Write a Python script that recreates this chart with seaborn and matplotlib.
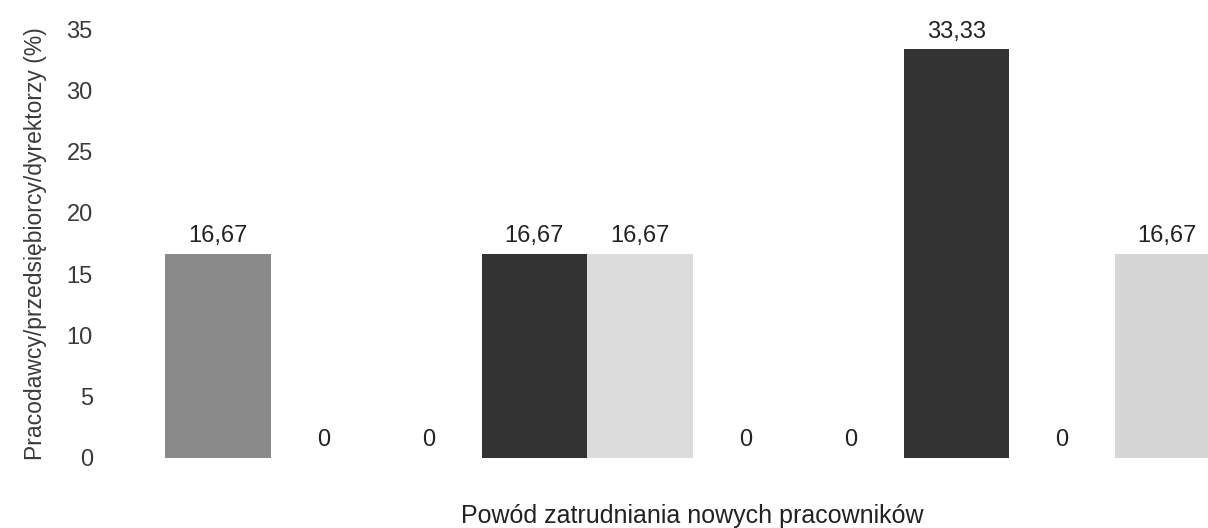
import matplotlib
matplotlib.use("Agg")
import matplotlib.pyplot as plt
import seaborn as sns
import pandas as pd

# reasons for hiring (tick labels are not shown in the original)
categories = ["Powód 1", "Powód 2", "Powód 3", "Powód 4", "Powód 5",
              "Powód 6", "Powód 7", "Powód 8", "Powód 9", "Powód 10"]
values = [16.67, 0, 0, 16.67, 16.67, 0, 0, 33.33, 0, 16.67]
colors = ["#8a8a8a", "#b0b0b0", "#b0b0b0", "#333333", "#dcdcdc",
          "#b0b0b0", "#b0b0b0", "#333333", "#b0b0b0", "#d6d6d6"]
yticks = [0, 5, 10, 15, 20, 25, 30, 35]

sns.set_theme(style="white")
plt.rcParams["font.family"] = ["Liberation Sans", "DejaVu Sans"]

df = pd.DataFrame({"powod": categories, "wartosc": values})

fig = plt.figure(figsize=(12.08, 5.28), dpi=100)
ax = fig.add_axes([165 / 1208, 70 / 528, 1055 / 1208, 429 / 528])

sns.barplot(data=df, x="powod", y="wartosc", hue="powod", palette=colors,
            width=1.0, legend=False, ax=ax, saturation=1, linewidth=0)

labels = [f"{v:.2f}".replace(".", ",") if v else "0" for v in values]
for cont, lab in zip(ax.containers, labels):
    ax.bar_label(cont, labels=[lab], padding=5, fontsize=17, color="#222222", clip_on=False)

ax.set_xlim(-0.5, 9.5)
ax.set_ylim(0, 35)
ax.set_yticks(yticks)
ax.set_yticklabels([str(t) for t in yticks], fontsize=17, color="#3a3a3a")
ax.tick_params(axis="y", length=0, pad=52)
ax.set_xticks([])
ax.set_xlabel("Powód zatrudniania nowych pracowników", fontsize=18, color="#222222", labelpad=33)
ax.set_ylabel("Pracodawcy/przedsiębiorcy/dyrektorzy (%)", fontsize=16.5, color="#3a3a3a", labelpad=14)
for s in ax.spines.values():
    s.set_visible(False)

fig.savefig("out.png", dpi=100)
